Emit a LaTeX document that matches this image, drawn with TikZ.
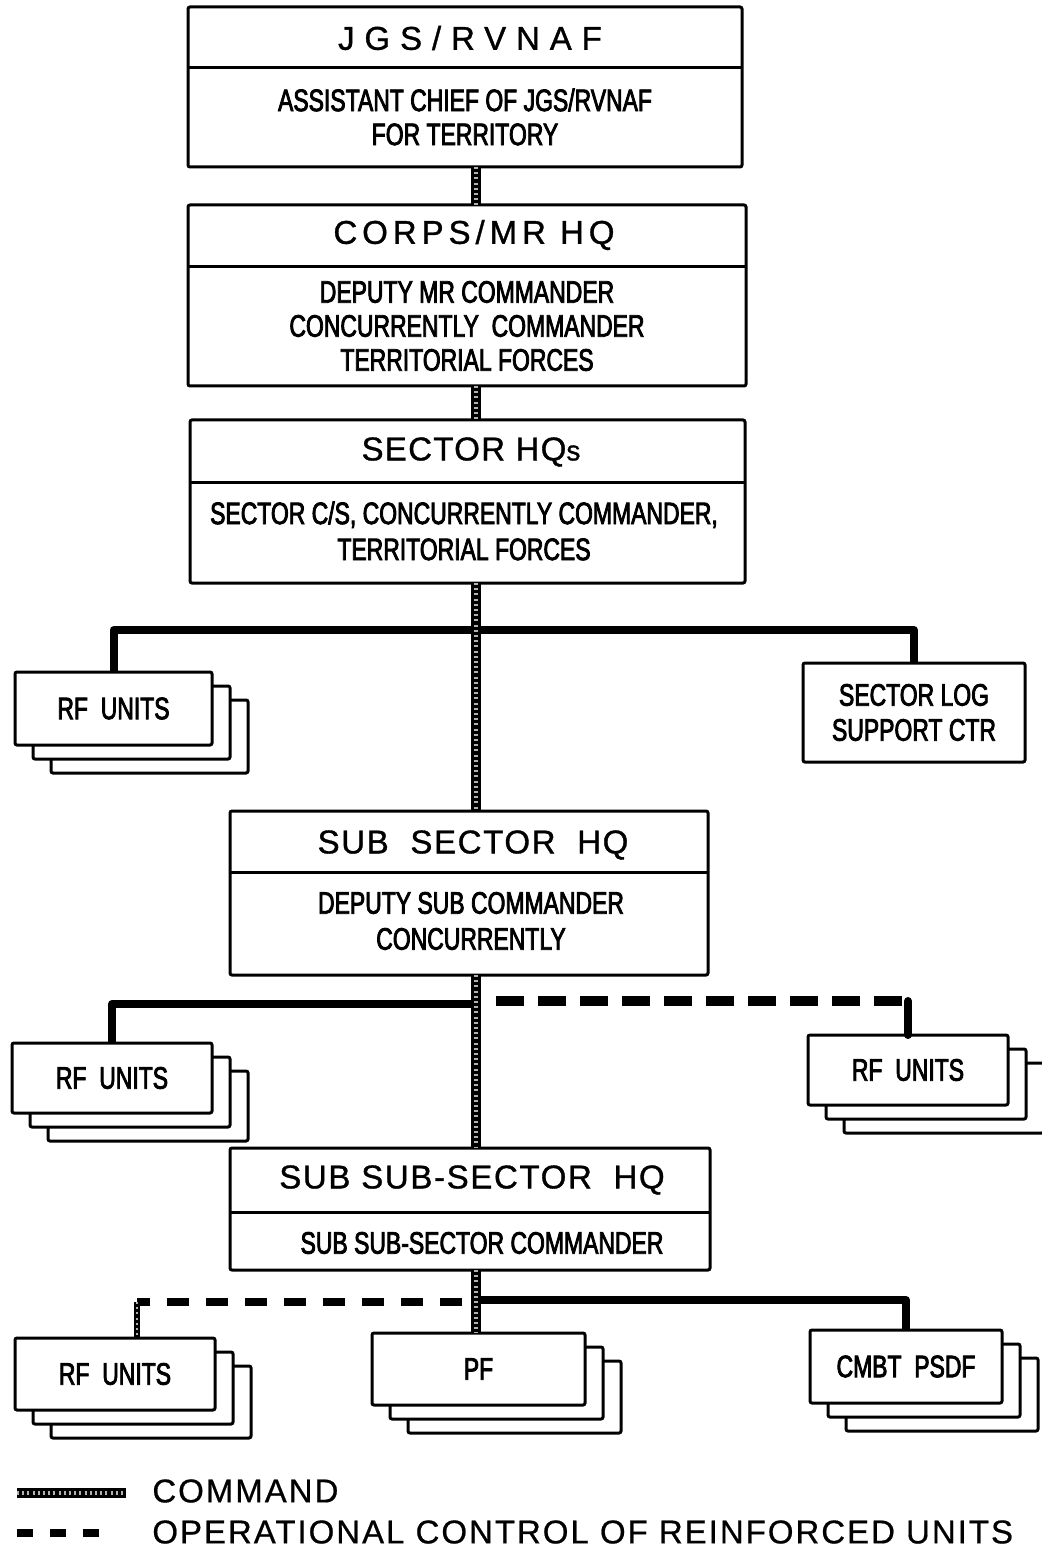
\documentclass[tikz,border=0pt]{standalone}
\usepackage{fontspec}
\setmainfont{Liberation Sans}
\newfontfamily\titlefont[FakeBold=1]{Liberation Sans}
\newfontfamily\condfont[FakeStretch=0.74,FakeBold=2.6]{Liberation Sans}
\newfontfamily\legendfont[LetterSpace=6,FakeBold=0.6]{Liberation Sans}
\usetikzlibrary{calc}
\tikzset{
  box/.style={draw, line width=1.5pt, fill=white, inner sep=0pt, outer sep=0pt, rounded corners=1pt},
  ttl/.style={font=\titlefont\fontsize{16.5}{18}\selectfont, inner sep=0pt},
  subtxt/.style={font=\condfont\fontsize{15.5}{17}\selectfont, align=center, inner sep=0pt},
  unittxt/.style={font=\condfont\fontsize{15.5}{17.5}\selectfont, align=center},
  divider/.style={line width=1.5pt},
  cmd/.style={line width=4.6pt, black, postaction={draw, line width=1.8pt, gray!60, dash pattern=on 1pt off 1.6pt}},
  bar/.style={line width=4pt, line join=round},
  ctl/.style={line width=4.6pt, dash pattern=on 14pt off 7pt},
  ctlb/.style={line width=3.6pt, dash pattern=on 11pt off 8.5pt},
}
\newcommand\unitstack[6]{%
  \node[box, minimum width={#4*0.5pt}, minimum height={#5*0.5pt}] (#1c) at ({#2+36},{#3+28}) {};
  \node[box, minimum width={#4*0.5pt}, minimum height={#5*0.5pt}] (#1b) at ({#2+18},{#3+14}) {};
  \node[box, unittxt, minimum width={#4*0.5pt}, minimum height={#5*0.5pt}] (#1) at (#2,#3) {#6};
}
\begin{document}
\begin{tikzpicture}[x=0.5pt, y=-0.5pt]
\useasboundingbox (0,0) rectangle (1042,1550);
\fill[white] (0,0) rectangle (1042,1550);
\coordinate (tx) at (476,0);

% ---------- main boxes ----------
\node[box, minimum width=277pt, minimum height=80pt] (jgs) at (465,87) {};
\draw[divider] (jgs.west |- 0,68) -- (jgs.east |- 0,68);
\node[ttl] (jgsT) at (470,38) {\addfontfeature{LetterSpace=30}JGS/RVNAF};
\node[subtxt] (jgsS) at (465,117) {ASSISTANT CHIEF OF JGS/RVNAF\\FOR TERRITORY};

\node[box, minimum width=279pt, minimum height=90.5pt] (corps) at (467,295.5) {};
\draw[divider] (corps.west |- 0,267) -- (corps.east |- 0,267);
\node[ttl] (corpsT) at (474,235) {\addfontfeature{LetterSpace=15}CORPS/MR HQ};
\node[subtxt] (corpsS) at (467,326) {DEPUTY MR COMMANDER\\CONCURRENTLY\ \ COMMANDER\\TERRITORIAL FORCES};

\node[box, minimum width=277.5pt, minimum height=81.5pt] (sector) at (467.5,501.5) {};
\draw[divider] (sector.west |- 0,483) -- (sector.east |- 0,483);
\node[ttl] (sectorT) at (471,452) {\addfontfeature{LetterSpace=4}SECTOR HQ{\fontsize{14}{16}\selectfont s}};
\node[subtxt] (sectorS) at (464,531) {SECTOR C/S, CONCURRENTLY COMMANDER,\\[1pt]TERRITORIAL FORCES};

\node[box, minimum width=239pt, minimum height=82pt] (sub) at (469,893) {};
\draw[divider] (sub.west |- 0,872) -- (sub.east |- 0,872);
\node[ttl] (subT) at (473,845) {\addfontfeature{LetterSpace=5}SUB\ \ SECTOR\ \ HQ};
\node[subtxt] (subS) at (471,921) {DEPUTY SUB COMMANDER\\[1pt]CONCURRENTLY};

\node[box, minimum width=240pt, minimum height=61pt] (subsub) at (470,1209) {};
\draw[divider] (subsub.west |- 0,1212) -- (subsub.east |- 0,1212);
\node[ttl] (subsubT) at (472,1180) {\addfontfeature{LetterSpace=5}SUB SUB-SECTOR\ \ HQ};
\node[subtxt] (subsubS) at (482,1243) {SUB SUB-SECTOR COMMANDER};

% ---------- unit boxes ----------
\node[box, unittxt, minimum width=111pt, minimum height=49.5pt] (log) at (914,712.5) {SECTOR LOG\\SUPPORT CTR};
\unitstack{rfA}{113.5}{708.5}{197}{73}{RF\ \ UNITS}
\unitstack{rfB}{112}{1078}{200}{70}{RF\ \ UNITS}
\unitstack{rfC}{908}{1070}{200}{70}{RF\ \ UNITS}
\unitstack{rfD}{115}{1374}{200}{72}{RF\ \ UNITS}
\unitstack{pf}{478.5}{1369}{213}{72}{PF}
\unitstack{cmbt}{906}{1366.5}{192}{73}{CMBT\ \ PSDF}

% ---------- connectors ----------
\coordinate (y1) at (0,630);
\draw[bar] (rfA.north) -- (rfA.north |- y1) -- (log.north |- y1) -- (log.north);

\coordinate (y2) at (0,1004);
\draw[bar] (rfB.north) |- (tx |- y2);
\coordinate (d2s) at (496,1001);
\draw[ctl] (d2s) -- (rfC.north |- d2s);
\draw[bar, line cap=round] (rfC.north |- d2s) -- (rfC.north);

\coordinate (y3) at (0,1300);
\draw[bar] (tx |- y3) -| (cmbt.north);
\coordinate (d3s) at (462,1302);
\coordinate (d3e) at (137,1302);
\draw[ctlb] (d3s) -- (d3e);
\draw[line width=3.4pt, postaction={draw, line width=1.2pt, gray!60, dash pattern=on 1pt off 1.6pt}] (d3e) -- (rfD.north -| d3e);

\draw[cmd] (jgs.south -| tx) -- (corps.north -| tx);
\draw[cmd] (corps.south -| tx) -- (sector.north -| tx);
\draw[cmd] (sector.south -| tx) -- (sub.north -| tx);
\draw[cmd] (sub.south -| tx) -- (subsub.north -| tx);
\draw[cmd] (subsub.south -| tx) -- (pf.north -| tx);

% ---------- legend ----------
\node[anchor=west, inner sep=0pt, font=\legendfont\fontsize{16.5}{18}\selectfont] (lcmd) at (152,1491) {COMMAND};
\coordinate (lc1) at (17,1493);
\coordinate (lc2) at (126,1493);
\draw[cmd] (lc1) -- (lc2);
\node[anchor=west, inner sep=0pt, font=\legendfont\fontsize{16.5}{18}\selectfont] (lopc) at (152,1532) {OPERATIONAL CONTROL OF REINFORCED UNITS};
\coordinate (lo1) at (17,1533);
\coordinate (lo2) at (101,1533);
\draw[line width=4.4pt, dash pattern=on 8pt off 8.5pt] (lo1) -- (lo2);
\end{tikzpicture}
\end{document}
